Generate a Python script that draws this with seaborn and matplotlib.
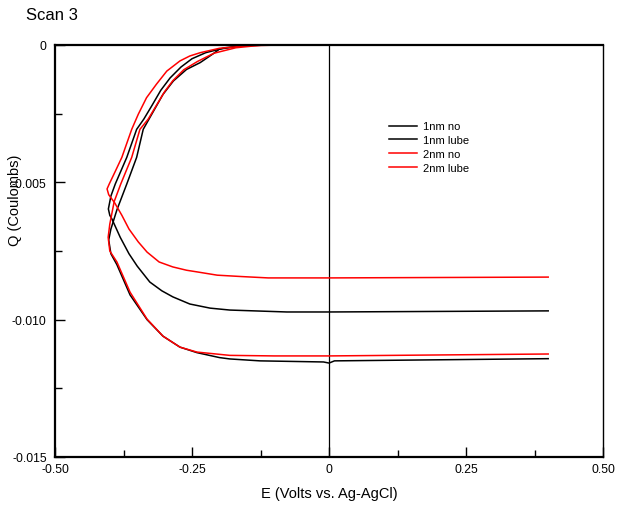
import numpy as np
import pandas as pd
import matplotlib
matplotlib.use("Agg")
import matplotlib.pyplot as plt
import seaborn as sns

# ---- data ----
series_names = ["1nm no", "1nm lube", "2nm no", "2nm lube"]
series_colors = ["black", "black", "red", "red"]

e_1nm_no = [0, -0.14, -0.19, -0.225, -0.25, -0.27, -0.29, -0.307, -0.323, -0.338, -0.351, -0.369,
            -0.390, -0.398, -0.4026, -0.400, -0.396, -0.381, -0.365, -0.350, -0.327, -0.305, -0.285,
            -0.254, -0.217, -0.181, -0.077, 0.0, 0.4]
q_1nm_no = [0, 0, -0.0001, -0.00028, -0.0005, -0.0008, -0.0012, -0.00165, -0.0022, -0.0027, -0.00307,
            -0.00409, -0.00506, -0.0055, -0.00597, -0.0062, -0.00634, -0.0070, -0.0076, -0.00805,
            -0.00863, -0.00895, -0.00917, -0.00943, -0.00958, -0.00965, -0.00972, -0.00972, -0.00968]

e_1nm_lube = [0, -0.15, -0.20, -0.21, -0.235, -0.260, -0.284, -0.303, -0.320, -0.339, -0.351, -0.369,
              -0.387, -0.398, -0.402, -0.398, -0.387, -0.363, -0.332, -0.303, -0.272, -0.241, -0.20,
              -0.181, -0.126, -0.01, 0.0, 0.01, 0.4]
q_1nm_lube = [0, 0, -0.00015, -0.0003, -0.00064, -0.00089, -0.00131, -0.0018, -0.0024, -0.00307,
              -0.00409, -0.00506, -0.0060, -0.0067, -0.0071, -0.0076, -0.0080, -0.0091, -0.0100,
              -0.0106, -0.0110, -0.0112, -0.01138, -0.01143, -0.0115, -0.01154, -0.01158, -0.0115,
              -0.01142]

e_2nm_no = [0, -0.089, -0.15, -0.20, -0.235, -0.254, -0.272, -0.296, -0.315, -0.333, -0.348, -0.360,
            -0.378, -0.390, -0.401, -0.405, -0.402, -0.391, -0.378, -0.365, -0.348, -0.332, -0.310,
            -0.285, -0.260, -0.241, -0.204, -0.16, -0.111, 0.0, 0.4]
q_2nm_no = [0, 0, -0.00003, -0.00012, -0.00028, -0.0004, -0.00058, -0.00095, -0.00143, -0.00192,
            -0.00252, -0.00307, -0.00409, -0.0046, -0.00506, -0.00524, -0.00545, -0.00575, -0.0062,
            -0.0067, -0.00717, -0.00754, -0.0079, -0.00808, -0.0082, -0.00826, -0.00838, -0.00843,
            -0.00848, -0.00848, -0.00845]

e_2nm_lube = [0, -0.12, -0.17, -0.21, -0.24, -0.265, -0.285, -0.30, -0.315, -0.330, -0.345, -0.360,
              -0.380, -0.392, -0.400, -0.403, -0.400, -0.387, -0.363, -0.332, -0.303, -0.272, -0.241,
              -0.181, -0.1, 0.0, 0.4]
q_2nm_lube = [0, 0, -0.0001, -0.0003, -0.0006, -0.0009, -0.0013, -0.0017, -0.0022, -0.0027, -0.00307,
              -0.00409, -0.00506, -0.0057, -0.00652, -0.0070, -0.0075, -0.0079, -0.0090, -0.00998,
              -0.0106, -0.0110, -0.01118, -0.0113, -0.01132, -0.01132, -0.01125]

x_ticks = [-0.5, -0.25, 0, 0.25, 0.5]
x_tick_labels = ["-0.50", "-0.25", "0", "0.25", "0.50"]
y_ticks = [0, -0.005, -0.010, -0.015]
y_tick_labels = ["0", "-0.005", "-0.010", "-0.015"]

# ---- build table ----
frames = []
for name, e, q in zip(series_names, [e_1nm_no, e_1nm_lube, e_2nm_no, e_2nm_lube],
                      [q_1nm_no, q_1nm_lube, q_2nm_no, q_2nm_lube]):
    frames.append(pd.DataFrame({"E": e, "Q": q, "series": name, "order": range(len(e))}))
df = pd.concat(frames, ignore_index=True)
palette = dict(zip(series_names, series_colors))

plt.rcParams["font.family"] = ["Liberation Sans", "DejaVu Sans"]

fig = plt.figure(figsize=(6.19, 5.10), dpi=100)
ax = fig.add_axes([55 / 619, 1 - 458 / 510, 548 / 619, 412 / 510])

sns.lineplot(data=df, x="E", y="Q", hue="series", hue_order=series_names, palette=palette,
             sort=False, estimator=None, linewidth=1.1, ax=ax, legend=True)

ax.axvline(0, color="black", linewidth=0.9, zorder=0)

ax.set_xlim(-0.5, 0.5)
ax.set_ylim(-0.015, 0)
ax.set_xticks(x_ticks)
ax.set_xticklabels(x_tick_labels)
ax.set_yticks(y_ticks)
ax.set_yticklabels(y_tick_labels)
ax.set_xticks([-0.375, -0.125, 0.125, 0.375], minor=True)
ax.set_yticks([-0.0025, -0.0075, -0.0125], minor=True)
ax.tick_params(which="major", direction="in", length=7, width=1.0, labelsize=8.8)
ax.tick_params(which="minor", direction="in", length=5, width=1.0)
ax.tick_params(axis="x", pad=4)
ax.tick_params(axis="y", pad=6)

for s in ["left", "bottom", "top"]:
    ax.spines[s].set_linewidth(1.6)
ax.spines["right"].set_linewidth(1.0)

ax.set_xlabel("E (Volts vs. Ag-AgCl)", fontsize=10.5, labelpad=8)
ax.set_ylabel("")
ax.text(-0.073, 0.626, "Q (Coulombs)", transform=ax.transAxes, rotation=90,
        ha="center", va="center", fontsize=10.5)

handles, labels = ax.get_legend_handles_labels()
ax.legend(handles, labels, loc="upper left", bbox_to_anchor=(0.6, 0.828), frameon=False,
          fontsize=8, handlelength=2.5, handletextpad=0.5, labelspacing=0.35, borderpad=0)

fig.text(26 / 619, 1 - 15 / 510, "Scan 3", fontsize=12, va="center", ha="left")

fig.savefig("out.png", dpi=100)
